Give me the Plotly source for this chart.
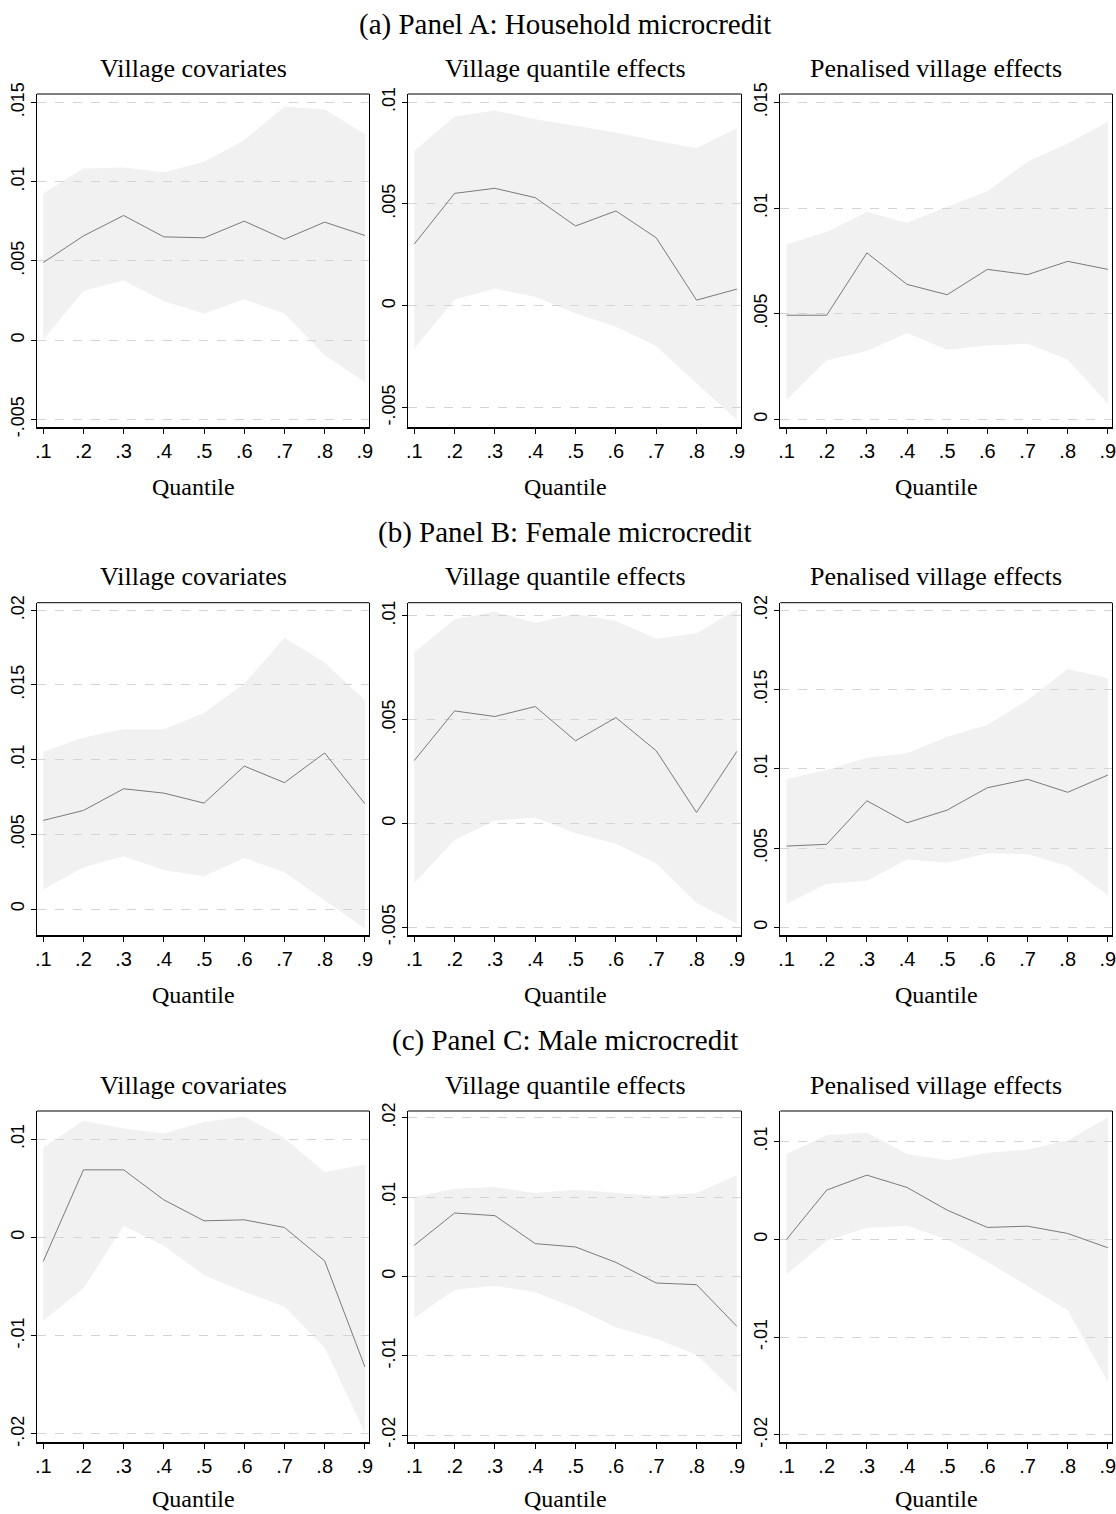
import plotly.graph_objects as go

# ---------------- data ----------------
quantiles = [0.1, 0.2, 0.3, 0.4, 0.5, 0.6, 0.7, 0.8, 0.9]
quantile_labels = [".1", ".2", ".3", ".4", ".5", ".6", ".7", ".8", ".9"]

panel_titles = ["(a) Panel A: Household microcredit",
                "(b) Panel B: Female microcredit",
                "(c) Panel C: Male microcredit"]
column_titles = ["Village covariates", "Village quantile effects", "Penalised village effects"]

# Panel A: Household microcredit
hh_cov_est = [0.0049, 0.00658, 0.00787, 0.00652, 0.00646, 0.00751, 0.00637, 0.00745, 0.00661]
hh_cov_hi = [0.00926, 0.01083, 0.0109, 0.0106, 0.01125, 0.01262, 0.01473, 0.01456, 0.0130]
hh_cov_lo = [0.00004, 0.00311, 0.00377, 0.00246, 0.00168, 0.00259, 0.00168, -0.00095, -0.00263]

hh_vqe_est = [0.00303, 0.00552, 0.00577, 0.00531, 0.00392, 0.00466, 0.00334, 0.00028, 0.00082]
hh_vqe_hi = [0.0076, 0.0093, 0.00959, 0.00916, 0.00884, 0.00851, 0.00811, 0.00774, 0.00872]
hh_vqe_lo = [-0.0021, 0.00031, 0.00085, 0.00044, -0.00038, -0.00103, -0.00197, -0.00382, -0.00559]

hh_pen_est = [0.00493, 0.00493, 0.00788, 0.00639, 0.0059, 0.0071, 0.00685, 0.00748, 0.0071]
hh_pen_hi = [0.00829, 0.00887, 0.00982, 0.00931, 0.01006, 0.0108, 0.01219, 0.01306, 0.01408]
hh_pen_lo = [0.00093, 0.00279, 0.00324, 0.00409, 0.0033, 0.0035, 0.00358, 0.00283, 0.00074]

# Panel B: Female microcredit
fe_cov_est = [0.00593, 0.0066, 0.00805, 0.00776, 0.00709, 0.00957, 0.00846, 0.01045, 0.00705]
fe_cov_hi = [0.01051, 0.01148, 0.01204, 0.01204, 0.01313, 0.0151, 0.01817, 0.01651, 0.01398]
fe_cov_lo = [0.0013, 0.0028, 0.00353, 0.00262, 0.00219, 0.00342, 0.00246, 0.00056, -0.0013]

fe_vqe_est = [0.00303, 0.00542, 0.00515, 0.00563, 0.00398, 0.0051, 0.0035, 0.00053, 0.00347]
fe_vqe_hi = [0.00825, 0.00983, 0.0102, 0.00967, 0.01009, 0.00975, 0.00889, 0.00916, 0.01031]
fe_vqe_lo = [-0.00287, -0.00079, 0.00014, 0.00029, -0.00047, -0.00098, -0.00191, -0.00383, -0.00483]

fe_pen_est = [0.00513, 0.00524, 0.00799, 0.0066, 0.0074, 0.00881, 0.00934, 0.00852, 0.00961]
fe_pen_hi = [0.00936, 0.00993, 0.0107, 0.01098, 0.01203, 0.01277, 0.01434, 0.0163, 0.01571]
fe_pen_lo = [0.00147, 0.00273, 0.00294, 0.00429, 0.00408, 0.00467, 0.00461, 0.00387, 0.00204]

# Panel C: Male microcredit
ma_cov_est = [-0.00244, 0.00689, 0.00689, 0.00383, 0.0017, 0.0018, 0.00102, -0.00238, -0.01317]
ma_cov_hi = [0.00916, 0.01188, 0.0111, 0.01059, 0.01177, 0.01232, 0.01011, 0.00668, 0.00743]
ma_cov_lo = [-0.00848, -0.00516, 0.00119, -0.00085, -0.00383, -0.00553, -0.00702, -0.0112, -0.01985]

ma_vqe_est = [0.00391, 0.00798, 0.00765, 0.00412, 0.0037, 0.00176, -0.00084, -0.00105, -0.0063]
ma_vqe_hi = [0.0100, 0.01105, 0.01126, 0.0105, 0.01092, 0.0105, 0.01017, 0.0105, 0.01273]
ma_vqe_lo = [-0.00525, -0.00168, -0.00118, -0.00202, -0.00399, -0.00643, -0.00786, -0.00987, -0.01483]

ma_pen_est = [0.0, 0.00505, 0.00658, 0.00532, 0.003, 0.00123, 0.00136, 0.00061, -0.00085]
ma_pen_hi = [0.00873, 0.01067, 0.01094, 0.00873, 0.00811, 0.00886, 0.0092, 0.01016, 0.01248]
ma_pen_lo = [-0.00358, -0.00014, 0.00119, 0.0014, 0.0, -0.00228, -0.00477, -0.00723, -0.01456]

# y-axis tick values / labels per subplot
yt_a1 = [-0.005, 0, 0.005, 0.01, 0.015]; yl_a1 = ["-.005", "0", ".005", ".01", ".015"]
yt_a2 = [-0.005, 0, 0.005, 0.01];        yl_a2 = ["-.005", "0", ".005", ".01"]
yt_a3 = [0, 0.005, 0.01, 0.015];         yl_a3 = ["0", ".005", ".01", ".015"]
yt_b1 = [0, 0.005, 0.01, 0.015, 0.02];   yl_b1 = ["0", ".005", ".01", ".015", ".02"]
yt_b2 = [-0.005, 0, 0.005, 0.01];        yl_b2 = ["-.005", "0", ".005", ".01"]
yt_b3 = [0, 0.005, 0.01, 0.015, 0.02];   yl_b3 = ["0", ".005", ".01", ".015", ".02"]
yt_c1 = [-0.02, -0.01, 0, 0.01];         yl_c1 = ["-.02", "-.01", "0", ".01"]
yt_c2 = [-0.02, -0.01, 0, 0.01, 0.02];   yl_c2 = ["-.02", "-.01", "0", ".01", ".02"]
yt_c3 = [-0.02, -0.01, 0, 0.01];         yl_c3 = ["-.02", "-.01", "0", ".01"]

# ---------------- layout constants ----------------
W, H = 1116, 1514
col_px = [(37, 369.3), (408, 741.3), (780.3, 1112.3)]
row_px = [(94, 427), (602.7, 935), (1111, 1442.3)]
y_ranges = [
    [(-0.00547, 0.01553), (-0.00595, 0.0104), (-0.00036, 0.0154)],
    [(-0.00174, 0.02051), (-0.00537, 0.01063), (-0.00048, 0.02048)],
    [(-0.02085, 0.01288), (-0.02092, 0.02084), (-0.02075, 0.01314)],
]
x_range = (0.0845, 0.911)
title_cx = [193, 565, 936]
panel_title_y = [25, 532, 1040]
col_title_y = [68, 576, 1085]
quantile_title_y = [487, 995, 1499]

series = [
    [(hh_cov_est, hh_cov_lo, hh_cov_hi), (hh_vqe_est, hh_vqe_lo, hh_vqe_hi), (hh_pen_est, hh_pen_lo, hh_pen_hi)],
    [(fe_cov_est, fe_cov_lo, fe_cov_hi), (fe_vqe_est, fe_vqe_lo, fe_vqe_hi), (fe_pen_est, fe_pen_lo, fe_pen_hi)],
    [(ma_cov_est, ma_cov_lo, ma_cov_hi), (ma_vqe_est, ma_vqe_lo, ma_vqe_hi), (ma_pen_est, ma_pen_lo, ma_pen_hi)],
]
yticks = [
    [(yt_a1, yl_a1), (yt_a2, yl_a2), (yt_a3, yl_a3)],
    [(yt_b1, yl_b1), (yt_b2, yl_b2), (yt_b3, yl_b3)],
    [(yt_c1, yl_c1), (yt_c2, yl_c2), (yt_c3, yl_c3)],
]

SERIF = "Liberation Serif, Times New Roman, serif"
SANS = "Liberation Sans Narrow, Liberation Sans, Arial, sans-serif"

fig = go.Figure()
layout = dict(
    width=W, height=H, margin=dict(l=0, r=0, t=0, b=0, autoexpand=False),
    paper_bgcolor="white", plot_bgcolor="white", showlegend=False,
)
annotations = []
shapes = []

def px_x(p):
    return p / W

def px_y(p):
    return 1 - p / H

k = 0
for r in range(3):
    for c in range(3):
        k += 1
        xa = "x" if k == 1 else f"x{k}"
        ya = "y" if k == 1 else f"y{k}"
        est, lo, hi = series[r][c]
        fig.add_trace(go.Scatter(x=quantiles, y=lo, mode="lines", line=dict(width=0, color="rgba(0,0,0,0)"),
                                 xaxis=xa, yaxis=ya, hoverinfo="skip"))
        fig.add_trace(go.Scatter(x=quantiles, y=hi, mode="lines", line=dict(width=0, color="rgba(0,0,0,0)"),
                                 fill="tonexty", fillcolor="rgba(215,215,215,0.35)",
                                 xaxis=xa, yaxis=ya, hoverinfo="skip"))
        fig.add_trace(go.Scatter(x=quantiles, y=est, mode="lines", line=dict(width=1, color="#7a7a7a"),
                                 xaxis=xa, yaxis=ya))
        tv, tl = yticks[r][c]
        layout["xaxis" if k == 1 else f"xaxis{k}"] = dict(
            domain=[px_x(col_px[c][0]), px_x(col_px[c][1])],
            anchor=ya, range=list(x_range), automargin=False,
            tickvals=quantiles, ticktext=quantile_labels, ticklabeloverflow="allow",
            ticks="outside", ticklen=5, tickcolor="black", tickwidth=1,
            showline=True, linecolor="black", linewidth=2,
            showgrid=False, zeroline=False,
            tickfont=dict(family=SANS, size=20, color="black"),
        )
        layout["yaxis" if k == 1 else f"yaxis{k}"] = dict(
            domain=[px_y(row_px[r][1]), px_y(row_px[r][0])],
            anchor=xa, range=list(y_ranges[r][c]), automargin=False,
            tickvals=tv, ticktext=tl, tickangle=-90, ticklabeloverflow="allow",
            ticks="outside", ticklen=5, tickcolor="black", tickwidth=1,
            showline=True, linecolor="black", linewidth=1, mirror=True,
            showgrid=True, gridcolor="#d4d4d4", griddash="dash", gridwidth=1,
            zeroline=False,
            tickfont=dict(family=SANS, size=18, color="black"),
        )
        # top frame line
        shapes.append(dict(type="line", xref=f"{xa} domain", yref=f"{ya} domain",
                           x0=0, x1=1, y0=1, y1=1, line=dict(color="black", width=1)))
        annotations.append(dict(text=column_titles[c], x=px_x(title_cx[c]), y=px_y(col_title_y[r]),
                                xref="paper", yref="paper", showarrow=False,
                                xanchor="center", yanchor="middle",
                                font=dict(family=SERIF, size=26, color="black")))
        annotations.append(dict(text="Quantile", x=px_x(title_cx[c]), y=px_y(quantile_title_y[r]),
                                xref="paper", yref="paper", showarrow=False,
                                xanchor="center", yanchor="middle",
                                font=dict(family=SERIF, size=24, color="black")))
    annotations.append(dict(text=panel_titles[r], x=px_x(565), y=px_y(panel_title_y[r]),
                            xref="paper", yref="paper", showarrow=False,
                            xanchor="center", yanchor="middle",
                            font=dict(family=SERIF, size=29, color="black")))

layout["annotations"] = annotations
layout["shapes"] = shapes
fig.update_layout(**layout)
fig.write_html("out.html")
